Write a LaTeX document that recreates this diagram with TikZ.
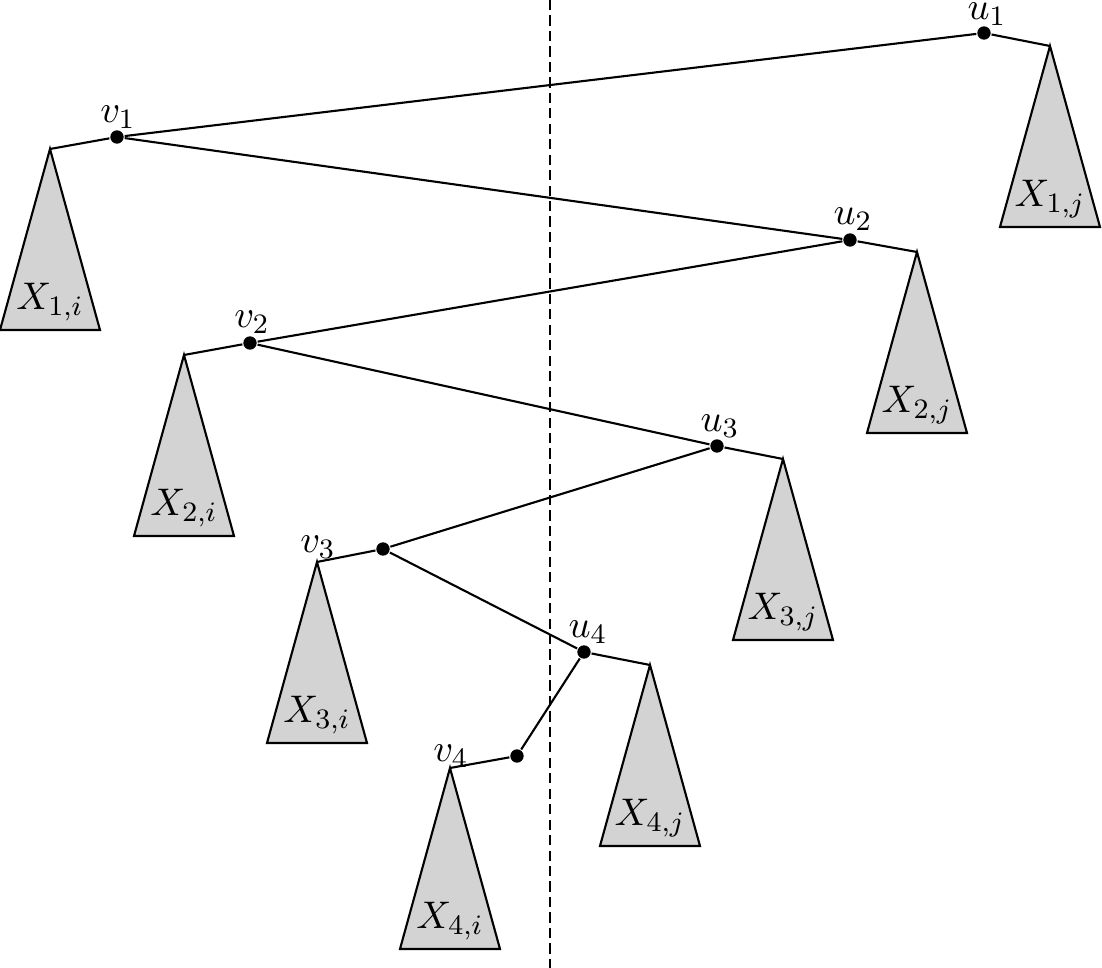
\documentclass[tikz,border=0pt]{standalone}
\begin{document}
\begin{tikzpicture}[
  line width=0.6pt,
  dot/.style={circle,fill=black,draw=none,inner sep=0pt,minimum size=3.8pt},
  lbl/.style={anchor=base,inner sep=0pt,font=\fontsize{10.95}{13.6}\selectfont},
  subtree/.style={draw=black,fill=trigray,line join=miter},
  edge/.style={draw=black},
  tlabel/.style={anchor=base,inner sep=0pt,font=\fontsize{10.95}{13.6}\selectfont}
]
\definecolor{trigray}{RGB}{211,211,211}
\useasboundingbox (0,0) rectangle (11.02,-9.68);

% dots
\node[dot] (u1) at (9.84,-0.33) {};
\node[dot] (v1) at (1.17,-1.37) {};
\node[dot] (u2) at (8.50,-2.40) {};
\node[dot] (v2) at (2.50,-3.43) {};
\node[dot] (u3) at (7.17,-4.46) {};
\node[dot] (v3) at (3.83,-5.49) {};
\node[dot] (u4) at (5.84,-6.52) {};
\node[dot] (v4) at (5.17,-7.56) {};

% labels of dots
\node[lbl] (lu1) at ([xshift=0.03cm,yshift=0.13cm]u1) {$u_1$};
\node[lbl] (lv1) at ([xshift=0.01cm,yshift=0.14cm]v1) {$v_1$};
\node[lbl] (lu2) at ([xshift=0.03cm,yshift=0.15cm]u2) {$u_2$};
\node[lbl] (lv2) at ([xshift=0.02cm,yshift=0.15cm]v2) {$v_2$};
\node[lbl] (lu3) at ([xshift=0.03cm,yshift=0.14cm]u3) {$u_3$};
\node[lbl] (lu4) at ([xshift=0.04cm,yshift=0.14cm]u4) {$u_4$};

% apexes of subtrees
\coordinate (a1j) at (10.50,-0.46);
\coordinate (a1i) at (0.50,-1.49);
\coordinate (a2j) at (9.17,-2.52);
\coordinate (a2i) at (1.84,-3.55);
\coordinate (a3j) at (7.83,-4.59);
\coordinate (a3i) at (3.17,-5.62);
\coordinate (a4j) at (6.50,-6.65);
\coordinate (a4i) at (4.50,-7.68);

% subtrees
\foreach \a/\t in {a1j/{X_{1,j}},a1i/{X_{1,i}},a2j/{X_{2,j}},a2i/{X_{2,i}},a3j/{X_{3,j}},a3i/{X_{3,i}},a4j/{X_{4,j}},a4i/{X_{4,i}}}{
  \draw[subtree] (\a) -- ++(-0.5,-1.81) -- ++(1,0) -- cycle;
  \node[tlabel] (L\a) at ([yshift=-1.61cm]\a) {$\t$};
}

% labels of v3, v4 above their subtree apexes
\node[lbl] (lv3) at ([xshift=0.01cm,yshift=0.09cm]a3i) {$v_3$};
\node[lbl] (lv4) at ([xshift=0.01cm,yshift=0.06cm]a4i) {$v_4$};

% dashed separator
\coordinate (dtop) at (5.50,0);
\coordinate (dbot) at (5.50,-9.68);
\draw[dash pattern=on 2.9pt off 1.5pt,line width=0.5pt] (dtop) -- (dbot);

% spine edges
\draw[edge] (u1) -- (v1) -- (u2) -- (v2) -- (u3) -- (v3) -- (u4) -- (v4);

% edges to subtrees
\draw[edge] (u1) -- (a1j);
\draw[edge] (v1) -- (a1i);
\draw[edge] (u2) -- (a2j);
\draw[edge] (v2) -- (a2i);
\draw[edge] (u3) -- (a3j);
\draw[edge] (v3) -- (a3i);
\draw[edge] (u4) -- (a4j);
\draw[edge] (v4) -- (a4i);
\end{tikzpicture}
\end{document}
